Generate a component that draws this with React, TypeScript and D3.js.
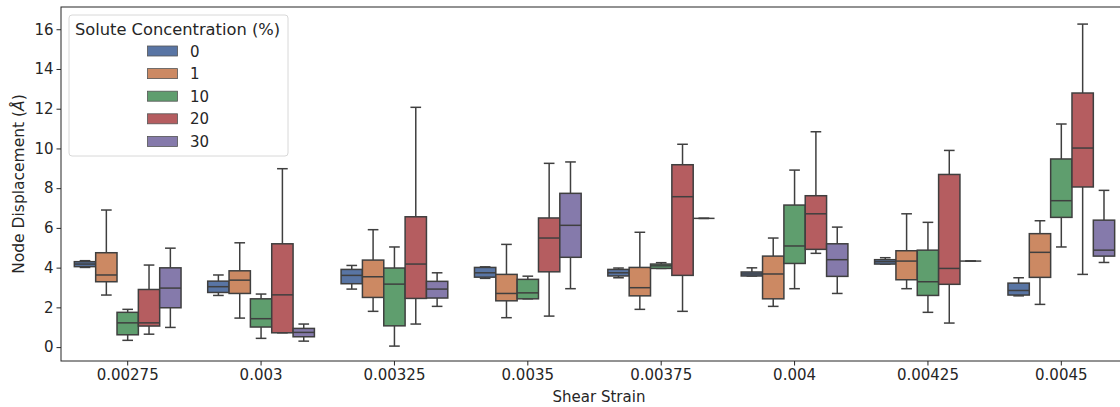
import React, { useEffect, useRef } from "react";
import * as d3 from "d3";

// shear strain categories and solute concentrations (hue)
const strains = ["0.00275", "0.003", "0.00325", "0.0035", "0.00375", "0.004", "0.00425", "0.0045"];
const concentrations = ["0", "1", "10", "20", "30"];
const colors = ["#5975a4", "#cc8963", "#5f9e6e", "#b55d60", "#857aab"];

// five-number summaries [whiskerLow, q1, median, q3, whiskerHigh], one row per strain
const conc0 = [
  [4.01, 4.05, 4.18, 4.3, 4.35],
  [2.6, 2.75, 3.04, 3.32, 3.63],
  [2.92, 3.19, 3.61, 3.91, 4.11],
  [3.46, 3.52, 3.74, 4.01, 4.04],
  [3.49, 3.58, 3.74, 3.91, 3.98],
  [3.58, 3.58, 3.68, 3.78, 3.99],
  [4.18, 4.18, 4.3, 4.4, 4.5],
  [2.58, 2.62, 2.85, 3.22, 3.49],
];
const conc1 = [
  [2.62, 3.29, 3.63, 4.75, 6.9],
  [1.46, 2.7, 3.37, 3.84, 5.25],
  [1.8, 2.5, 3.54, 4.38, 5.91],
  [1.48, 2.33, 2.7, 3.66, 5.17],
  [1.9, 2.58, 2.99, 4.01, 5.78],
  [2.05, 2.43, 3.68, 4.58, 5.49],
  [2.94, 3.39, 4.33, 4.85, 6.71],
  [2.15, 3.51, 4.77, 5.71, 6.36],
];
const conc10 = [
  [0.34, 0.62, 1.22, 1.75, 1.9],
  [0.44, 1.01, 1.43, 2.43, 2.67],
  [0.05, 1.07, 3.17, 3.98, 5.04],
  [2.43, 2.43, 2.73, 3.41, 3.57],
  [3.96, 3.96, 4.09, 4.18, 4.25],
  [2.94, 4.21, 5.09, 7.15, 8.91],
  [1.75, 2.6, 3.29, 4.88, 6.28],
  [5.04, 6.53, 7.37, 9.47, 11.23],
];
const conc20 = [
  [0.65, 1.06, 1.22, 2.9, 4.13],
  [0.72, 0.72, 2.63, 5.2, 8.98],
  [1.16, 2.45, 4.18, 6.56, 12.07],
  [1.56, 3.79, 5.49, 6.5, 9.25],
  [1.8, 3.61, 7.57, 9.18, 10.21],
  [4.72, 4.92, 6.71, 7.62, 10.84],
  [1.21, 3.16, 3.96, 8.69, 9.9],
  [3.66, 8.06, 10.02, 12.79, 16.26],
];
const conc30 = [
  [0.99, 1.98, 2.97, 3.99, 4.98],
  [0.3, 0.52, 0.74, 0.94, 1.16],
  [2.05, 2.47, 2.92, 3.31, 3.74],
  [2.94, 4.52, 6.13, 7.74, 9.32],
  [6.48, 6.48, 6.48, 6.48, 6.48],
  [2.7, 3.56, 4.4, 5.2, 6.04],
  [4.33, 4.33, 4.33, 4.33, 4.33],
  [4.26, 4.58, 4.88, 6.39, 7.89],
];
const yTicks = [0, 2, 4, 6, 8, 10, 12, 14, 16];

const series = [conc0, conc1, conc10, conc20, conc30];

const W = 1120;
const H = 407;
const left = 61;
const top = 7;
const bottom = 361;
const right = 1128;
const lineColor = "#3f3f3f";
const textColor = "#262626";
const font = "DejaVu Sans, sans-serif";
const fs = "15px";

export default function App() {
  const ref = useRef<SVGSVGElement>(null);

  useEffect(() => {
    const svg = d3.select(ref.current);
    svg.selectAll("*").remove();

    const x = d3.scaleBand().domain(strains).range([left, right]).padding(0);
    const hue = d3.scaleBand().domain(concentrations)
      .range([x.bandwidth() * 0.1, x.bandwidth() * 0.9]).padding(0);
    const y = d3.scaleLinear().domain([-0.7, 17.12]).range([bottom, top]);

    const g = svg.append("g");

    /* boxes */
    series.forEach((rows, hi) => {
      const c = concentrations[hi];
      rows.forEach((s, ci) => {
        const x0 = x(strains[ci])! + hue(c)!;
        const bw = hue.bandwidth();
        const xm = x0 + bw / 2;
        const cap = bw * 0.25;
        const [lo, q1, med, q3, hi2] = s;
        const bg = g.append("g")
          .attr("stroke", lineColor)
          .attr("stroke-width", 1.5)
          .attr("fill", "none");
        bg.append("line").attr("x1", xm).attr("x2", xm).attr("y1", y(q3)).attr("y2", y(hi2));
        bg.append("line").attr("x1", xm).attr("x2", xm).attr("y1", y(q1)).attr("y2", y(lo));
        bg.append("line").attr("x1", xm - cap).attr("x2", xm + cap).attr("y1", y(hi2)).attr("y2", y(hi2));
        bg.append("line").attr("x1", xm - cap).attr("x2", xm + cap).attr("y1", y(lo)).attr("y2", y(lo));
        bg.append("rect")
          .attr("x", x0)
          .attr("y", y(q3))
          .attr("width", bw)
          .attr("height", Math.max(0, y(q1) - y(q3)))
          .attr("fill", colors[hi]);
        bg.append("line").attr("x1", x0).attr("x2", x0 + bw).attr("y1", y(med)).attr("y2", y(med));
      });
    });

    /* axes */
    const xAxis = d3.axisBottom(x).tickSize(4.5).tickPadding(4);
    const yAxis = d3.axisLeft(y).tickValues(yTicks).tickSize(4.5).tickPadding(3);

    const xa = svg.append("g")
      .attr("transform", `translate(0, ${bottom})`)
      .call(xAxis);
    const ya = svg.append("g")
      .attr("transform", `translate(${left}, 0)`)
      .call(yAxis);
    [xa, ya].forEach(a => {
      a.select(".domain").remove();
      a.selectAll("line").attr("stroke", textColor).attr("stroke-width", 1);
      a.selectAll("text")
        .attr("fill", textColor)
        .style("font-family", font)
        .style("font-size", fs);
    });

    /* frame */
    svg.append("rect")
      .attr("x", left).attr("y", top)
      .attr("width", right - left).attr("height", bottom - top)
      .attr("fill", "none").attr("stroke", textColor).attr("stroke-width", 1);

    /* axis labels */
    svg.append("text")
      .attr("x", 599)
      .attr("y", 402)
      .attr("text-anchor", "middle")
      .attr("fill", textColor)
      .style("font-family", font)
      .style("font-size", fs)
      .text("Shear Strain");

    const yl = svg.append("text")
      .attr("transform", `translate(24, ${(top + bottom) / 2}) rotate(-90)`)
      .attr("text-anchor", "middle")
      .attr("fill", textColor)
      .style("font-family", font)
      .style("font-size", "15.5px");
    yl.append("tspan").text("Node Displacement (");
    yl.append("tspan").style("font-style", "italic").text("Å");
    yl.append("tspan").text(")");

    /* legend */
    const lg = svg.append("g").attr("transform", "translate(69, 15)");
    lg.append("rect")
      .attr("width", 219).attr("height", 141)
      .attr("rx", 3)
      .attr("fill", "white").attr("fill-opacity", 0.8)
      .attr("stroke", "#d8d8d8").attr("stroke-width", 1);
    lg.append("text")
      .attr("x", 108.5).attr("y", 19.5)
      .attr("text-anchor", "middle")
      .attr("fill", textColor)
      .style("font-family", font)
      .style("font-size", "16.3px")
      .text("Solute Concentration (%)");
    concentrations.forEach((c, i) => {
      const cy = 36 + i * 22.6;
      lg.append("rect")
        .attr("x", 78.5).attr("y", cy - 5)
        .attr("width", 30).attr("height", 10)
        .attr("fill", colors[i])
        .attr("stroke", "#555").attr("stroke-width", 0.8);
      lg.append("text")
        .attr("x", 121).attr("y", cy + 5.5)
        .attr("fill", textColor)
        .style("font-family", font)
        .style("font-size", fs)
        .text(c);
    });
  }, []);

  return (
    <svg ref={ref} width={W} height={H}
      style={{ position: "absolute", left: 0, top: 0, background: "white" }} />
  );
}
